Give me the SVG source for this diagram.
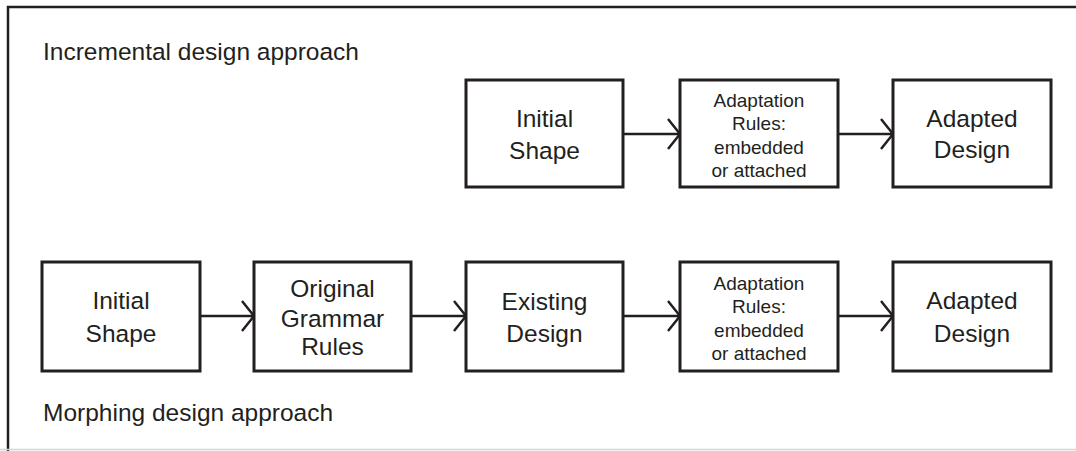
<svg xmlns="http://www.w3.org/2000/svg" width="1076" height="451" viewBox="0 0 1076 451">
  <style>
    .box { fill: #ffffff; stroke: #231f20; stroke-width: 3; }
    .lbl { font-family: "Liberation Sans", Arial, sans-serif; fill: #231f20; text-anchor: middle; }
    .big { font-size: 24.5px; }
    .small { font-size: 19px; }
    .title { font-family: "Liberation Sans", Arial, sans-serif; fill: #231f20; font-size: 24.5px; }
    .link { fill: none; stroke: #231f20; stroke-width: 2.5; }
  </style>
  <defs>
    <marker id="chev" markerUnits="userSpaceOnUse" markerWidth="16" markerHeight="34" refX="13" refY="17" orient="auto" viewBox="0 0 16 34">
      <path d="M1,2 L13,17 L1,32" fill="none" stroke="#231f20" stroke-width="2.5"/>
    </marker>
  </defs>

  <rect x="0" y="0" width="1076" height="451" fill="#ffffff"/>
  <!-- frame -->
  <path d="M8,451 V7 H1076" fill="none" stroke="#231f20" stroke-width="2.5"/>
  <line x1="0" y1="449.5" x2="1076" y2="449.5" stroke="#d4d4d4" stroke-width="1.5"/>

  <text class="title" x="43" y="60">Incremental design approach</text>
  <text class="title" x="43" y="421">Morphing design approach</text>

  <g id="connectors">
    <line class="link" x1="623" y1="134" x2="680" y2="134" marker-end="url(#chev)"/>
    <line class="link" x1="838" y1="134" x2="893" y2="134" marker-end="url(#chev)"/>
    <line class="link" x1="200" y1="316" x2="254" y2="316" marker-end="url(#chev)"/>
    <line class="link" x1="411" y1="316" x2="466" y2="316" marker-end="url(#chev)"/>
    <line class="link" x1="623" y1="316" x2="680" y2="316" marker-end="url(#chev)"/>
    <line class="link" x1="838" y1="316" x2="893" y2="316" marker-end="url(#chev)"/>
  </g>

  <!-- incremental row -->
  <g id="inc-initial">
    <rect class="box" x="466" y="80" width="157" height="107"/>
    <text class="lbl big" x="544.5" y="127">Initial</text>
    <text class="lbl big" x="544.5" y="159">Shape</text>
  </g>
  <g id="inc-adaptation">
    <rect class="box" x="680" y="80" width="158" height="107"/>
    <text class="lbl small" x="759" y="107">Adaptation</text>
    <text class="lbl small" x="759" y="130">Rules:</text>
    <text class="lbl small" x="759" y="154">embedded</text>
    <text class="lbl small" x="759" y="177">or attached</text>
  </g>
  <g id="inc-adapted">
    <rect class="box" x="893" y="80" width="158" height="107"/>
    <text class="lbl big" x="972" y="127">Adapted</text>
    <text class="lbl big" x="972" y="158">Design</text>
  </g>

  <!-- morphing row -->
  <g id="mor-initial">
    <rect class="box" x="42" y="262" width="158" height="109"/>
    <text class="lbl big" x="121" y="309">Initial</text>
    <text class="lbl big" x="121" y="342">Shape</text>
  </g>
  <g id="mor-grammar">
    <rect class="box" x="254" y="262" width="157" height="109"/>
    <text class="lbl big" x="332.5" y="297">Original</text>
    <text class="lbl big" x="332.5" y="327">Grammar</text>
    <text class="lbl big" x="332.5" y="355">Rules</text>
  </g>
  <g id="mor-existing">
    <rect class="box" x="466" y="262" width="157" height="109"/>
    <text class="lbl big" x="544.5" y="310">Existing</text>
    <text class="lbl big" x="544.5" y="342">Design</text>
  </g>
  <g id="mor-adaptation">
    <rect class="box" x="680" y="262" width="158" height="109"/>
    <text class="lbl small" x="759" y="290">Adaptation</text>
    <text class="lbl small" x="759" y="313">Rules:</text>
    <text class="lbl small" x="759" y="337">embedded</text>
    <text class="lbl small" x="759" y="360">or attached</text>
  </g>
  <g id="mor-adapted">
    <rect class="box" x="893" y="262" width="158" height="109"/>
    <text class="lbl big" x="972" y="309">Adapted</text>
    <text class="lbl big" x="972" y="342">Design</text>
  </g>
</svg>
